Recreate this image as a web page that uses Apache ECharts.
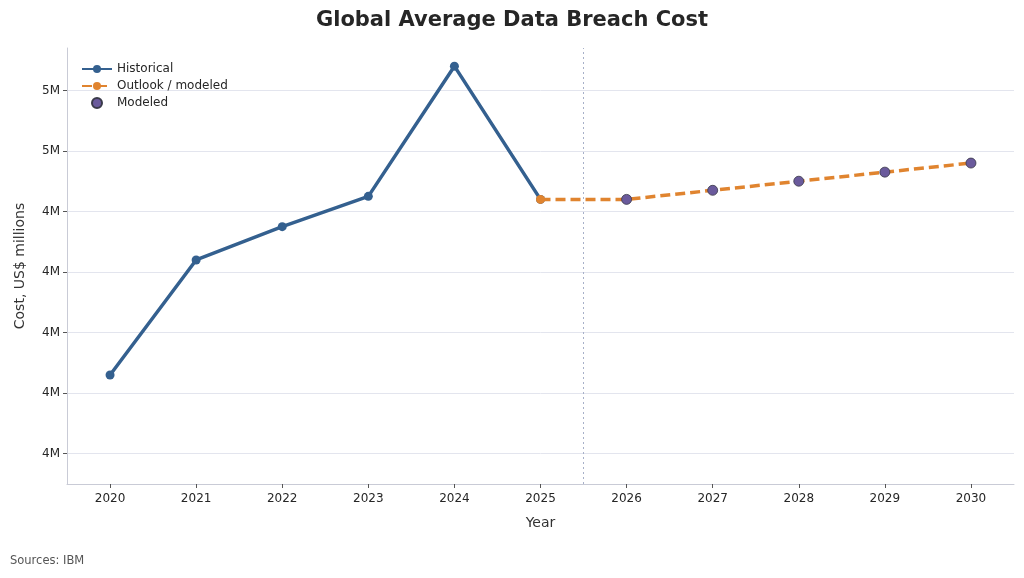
<!DOCTYPE html>
<html>
<head>
<meta charset="utf-8">
<script src="https://cdn.jsdelivr.net/npm/echarts@6/dist/echarts.min.js"></script>
<style>
  html, body { margin: 0; padding: 0; background: #fff; }
  #chart { width: 1024px; height: 578px; }
</style>
</head>
<body>
<div id="chart"></div>
<script>
// data (US$ millions)
const histYears = [2020, 2021, 2022, 2023, 2024, 2025]
const histCost = [3.86, 4.24, 4.35, 4.45, 4.88, 4.44]
const outlookYears = [2025, 2026, 2027, 2028, 2029, 2030]
const outlookCost = [4.44, 4.44, 4.47, 4.50, 4.53, 4.56]
const modeledYears = [2026, 2027, 2028, 2029, 2030]
const modeledCost = [4.44, 4.47, 4.50, 4.53, 4.56]
const yTicks = [3.6, 3.8, 4.0, 4.2, 4.4, 4.6, 4.8]
const splitYear = 2025.5

const font = 'DejaVu Sans'
const chart = echarts.init(document.getElementById('chart'))

const pair = (xs, ys) => xs.map((x, i) => [x, ys[i]])

chart.setOption({
  animation: false,
  textStyle: { fontFamily: font },
  title: {
    text: 'Global Average Data Breach Cost',
    left: 'center', top: 5,
    textStyle: { fontFamily: font, fontSize: 21, fontWeight: 'bold', color: '#262626' }
  },
  graphic: [{
    type: 'text', left: 10, top: 555,
    style: { text: 'Sources: IBM', fontFamily: font, fontSize: 11.5, fill: '#555' }
  }],
  legend: {
    left: 76, top: 58, orient: 'vertical', itemGap: 5,
    itemWidth: 30, itemHeight: 10,
    textStyle: { fontFamily: font, fontSize: 12, color: '#262626' },
    data: ['Historical', 'Outlook / modeled', 'Modeled']
  },
  grid: { left: 67, right: 10, top: 48, bottom: 94 },
  xAxis: {
    type: 'value', min: 2019.5, max: 2030.5,
    name: 'Year', nameLocation: 'middle', nameGap: 32,
    nameTextStyle: { fontFamily: font, fontSize: 14, color: '#333' },
    splitLine: { show: false },
    axisLine: { lineStyle: { color: '#c9cbd6', width: 1 } },
    axisTick: { show: true, length: 4, lineStyle: { color: '#555' }, customValues: histYears.concat(modeledYears) },
    axisLabel: {
      customValues: histYears.concat(modeledYears),
      fontSize: 12, color: '#262626', margin: 9,
      formatter: v => String(v)
    }
  },
  yAxis: {
    type: 'value', min: 3.5, max: 4.94,
    name: 'Cost, US$ millions', nameLocation: 'middle', nameGap: 40,
    nameTextStyle: { fontFamily: font, fontSize: 14, color: '#333' },
    axisLine: { show: true, lineStyle: { color: '#c9cbd6', width: 1 } },
    axisTick: { show: true, length: 4, lineStyle: { color: '#555' }, customValues: yTicks },
    splitLine: { show: true, lineStyle: { color: '#e3e5ee', width: 1 } },
    axisLabel: {
      customValues: yTicks,
      fontSize: 12, color: '#262626', margin: 7,
      formatter: v => Math.round(v) + 'M'
    }
  },
  series: [
    {
      name: 'Historical', type: 'line', data: pair(histYears, histCost),
      symbol: 'circle', symbolSize: 9, z: 3,
      lineStyle: { color: '#34608f', width: 3.5 },
      itemStyle: { color: '#34608f' },
      markLine: {
        silent: true, symbol: 'none', label: { show: false },
        lineStyle: { color: '#a7b0c8', type: [2, 3], width: 1 },
        data: [{ xAxis: splitYear }]
      }
    },
    {
      name: 'Outlook / modeled', type: 'line', data: pair(outlookYears, outlookCost),
      symbol: 'circle', symbolSize: 9, z: 4,
      lineStyle: { color: '#e0842f', width: 3.5, type: [10, 5] },
      itemStyle: { color: '#e0842f' }
    },
    {
      name: 'Modeled', type: 'scatter', data: pair(modeledYears, modeledCost),
      symbolSize: 10, z: 5,
      itemStyle: { color: '#6a5a9c', borderColor: '#3a3a4a', borderWidth: 0.8, opacity: 1 }
    }
  ]
})
</script>
</body>
</html>
